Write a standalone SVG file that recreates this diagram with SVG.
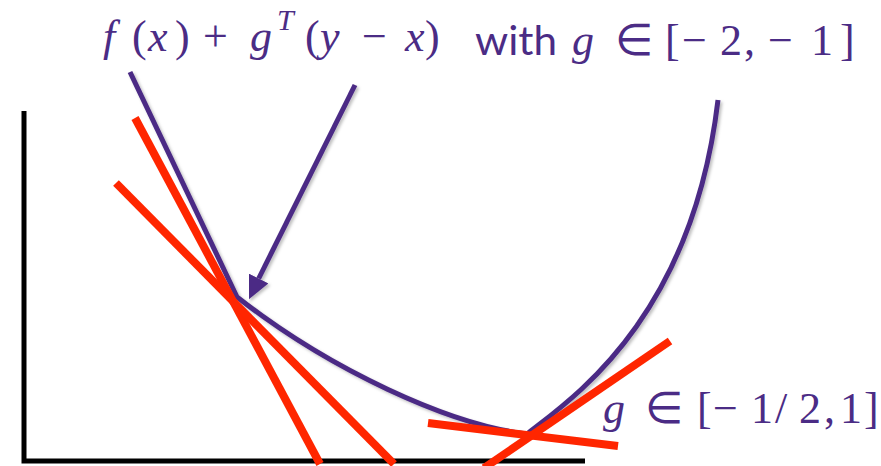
<svg xmlns="http://www.w3.org/2000/svg" width="881" height="466" viewBox="0 0 881 466">
<defs>
<style>
.axis{stroke:#000;stroke-width:5;fill:none}
.fn{stroke:#4B2C85;stroke-width:5;fill:none}
.tan{stroke:#FF2600;stroke-width:8;fill:none}
.arrow{stroke:#4B2C85;stroke-width:5}
</style>
<filter id="sh" x="-10%" y="-10%" width="130%" height="130%">
<feDropShadow dx="2" dy="2" stdDeviation="1.5" flood-color="#000" flood-opacity="0.25"/>
</filter>
<marker id="ah" viewBox="0 0 24 22" markerWidth="24" markerHeight="22" markerUnits="userSpaceOnUse" refX="0" refY="11" orient="auto">
<path d="M0,0 L24,11 L0,22 z" fill="#4B2C85"/>
</marker>
</defs>
<rect width="881" height="466" fill="#fff"/>
<g id="axes">
<path class="axis" d="M24,111 V461 H585"/>
</g>
<g id="function" filter="url(#sh)">
<path class="fn" d="M130,72 L237,297 C330,370 450,425 527,434 C570,400 692,320 718,100"/>
</g>
<g id="tangents">
<line class="tan" x1="135" y1="118" x2="320" y2="464"/>
<line class="tan" x1="116" y1="183" x2="394" y2="464"/>
<line class="tan" x1="428" y1="423" x2="618" y2="446"/>
<line class="tan" x1="484" y1="468" x2="670" y2="341"/>
</g>
<g id="label-top">
<text x="103" y="51" style="font-family:'Liberation Serif',serif !important;font-size:44px;font-style:italic;fill:#4B2C85">f</text>
<text x="132" y="51" style="font-family:'Liberation Serif',serif !important;font-size:44px;fill:#4B2C85">(</text>
<text x="148" y="51" style="font-family:'Liberation Serif',serif !important;font-size:44px;font-style:italic;fill:#4B2C85">x</text>
<text x="175" y="51" style="font-family:'Liberation Serif',serif !important;font-size:44px;fill:#4B2C85">)</text>
<text x="203" y="51" style="font-family:'Liberation Serif',serif !important;font-size:44px;fill:#4B2C85">+</text>
<text x="250" y="51" style="font-family:'Liberation Serif',serif !important;font-size:44px;font-style:italic;fill:#4B2C85">g</text>
<text x="277" y="30" style="font-family:'Liberation Serif',serif !important;font-size:30px;font-style:italic;fill:#4B2C85">T</text>
<text x="305" y="51" style="font-family:'Liberation Serif',serif !important;font-size:44px;fill:#4B2C85">(</text>
<text x="320" y="51" style="font-family:'Liberation Serif',serif !important;font-size:44px;font-style:italic;fill:#4B2C85">y</text>
<text x="362" y="51" style="font-family:'Liberation Serif',serif !important;font-size:44px;fill:#4B2C85">−</text>
<text x="405" y="51" style="font-family:'Liberation Serif',serif !important;font-size:44px;font-style:italic;fill:#4B2C85">x</text>
<text x="425" y="51" style="font-family:'Liberation Serif',serif !important;font-size:44px;fill:#4B2C85">)</text>
<text x="475" y="55" textLength="82" lengthAdjust="spacingAndGlyphs" style="font-family:Lato,sans-serif !important;font-size:40px;fill:#4B2C85">with</text>
<text x="572" y="55" style="font-family:'Liberation Serif',serif !important;font-size:44px;font-style:italic;fill:#4B2C85">g</text>
<text x="615" y="55" style="font-family:'Liberation Serif',serif !important;font-size:44px;fill:#4B2C85">∈</text>
<text x="665" y="55" style="font-family:'Liberation Serif',serif !important;font-size:44px;fill:#4B2C85">[</text>
<text x="682" y="55" style="font-family:'Liberation Serif',serif !important;font-size:44px;fill:#4B2C85">−</text>
<text x="720" y="55" style="font-family:'Liberation Serif',serif !important;font-size:44px;fill:#4B2C85">2</text>
<text x="744" y="55" style="font-family:'Liberation Serif',serif !important;font-size:44px;fill:#4B2C85">,</text>
<text x="768" y="55" style="font-family:'Liberation Serif',serif !important;font-size:44px;fill:#4B2C85">−</text>
<text x="811" y="55" style="font-family:'Liberation Serif',serif !important;font-size:44px;fill:#4B2C85">1</text>
<text x="840" y="55" style="font-family:'Liberation Serif',serif !important;font-size:44px;fill:#4B2C85">]</text>
</g>
<g id="label-bottom">
<text x="603" y="423" style="font-family:'Liberation Serif',serif !important;font-size:44px;font-style:italic;fill:#4B2C85">g</text>
<text x="645" y="423" style="font-family:'Liberation Serif',serif !important;font-size:44px;fill:#4B2C85">∈</text>
<text x="697" y="423" style="font-family:'Liberation Serif',serif !important;font-size:44px;fill:#4B2C85">[</text>
<text x="713" y="423" style="font-family:'Liberation Serif',serif !important;font-size:44px;fill:#4B2C85">−</text>
<text x="751" y="423" style="font-family:'Liberation Serif',serif !important;font-size:44px;fill:#4B2C85">1</text>
<text x="775" y="423" style="font-family:'Liberation Serif',serif !important;font-size:44px;fill:#4B2C85">/</text>
<text x="799" y="423" style="font-family:'Liberation Serif',serif !important;font-size:44px;fill:#4B2C85">2</text>
<text x="824" y="423" style="font-family:'Liberation Serif',serif !important;font-size:44px;fill:#4B2C85">,</text>
<text x="840" y="423" style="font-family:'Liberation Serif',serif !important;font-size:44px;fill:#4B2C85">1</text>
<text x="864" y="423" style="font-family:'Liberation Serif',serif !important;font-size:44px;fill:#4B2C85">]</text>
</g>
<g id="connectors">
<line class="arrow" x1="355" y1="85" x2="258.7" y2="278.5" marker-end="url(#ah)" filter="url(#sh)"/>
</g>
</svg>
